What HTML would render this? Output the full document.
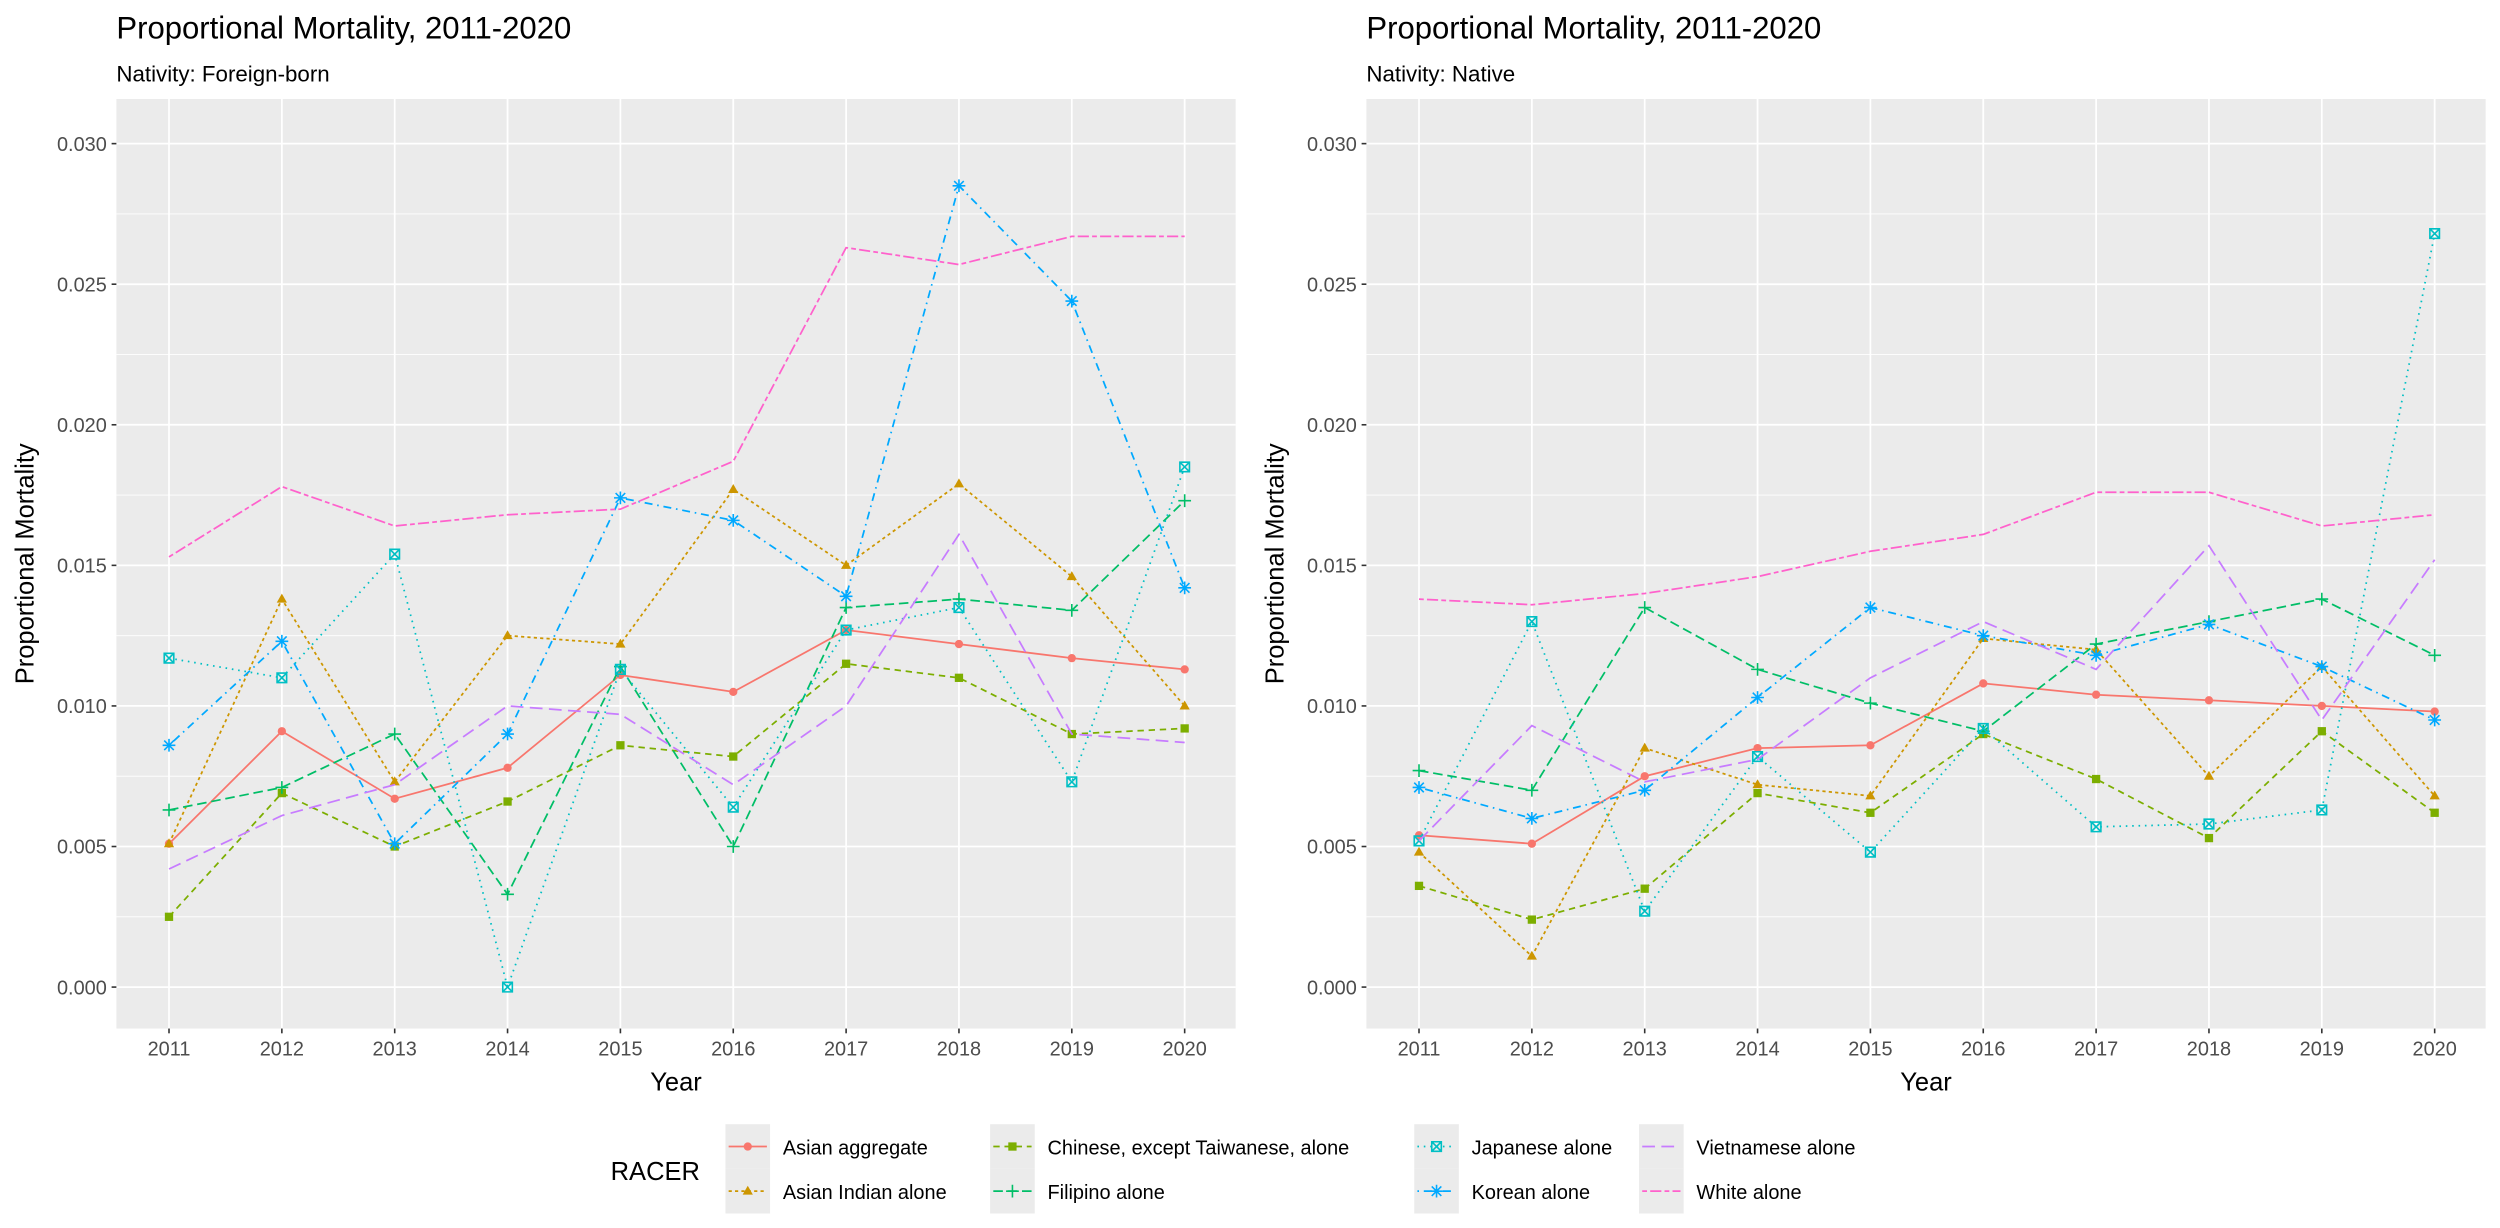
<!DOCTYPE html>
<html><head><meta charset="utf-8"><style>
html,body{margin:0;padding:0;background:#fff}
svg{display:block;font-family:"Liberation Sans",Arial,sans-serif}
</style></head><body>
<svg id="chart" width="2500" height="1228" viewBox="0 0 1568 770" xmlns="http://www.w3.org/2000/svg">
<rect width="1568" height="770" fill="#fff"/>
</svg>
<script>
const years = [2011,2012,2013,2014,2015,2016,2017,2018,2019,2020];
const yTicks = [0,0.005,0.01,0.015,0.02,0.025,0.03];
const yTickLabels = ["0.000","0.005","0.010","0.015","0.020","0.025","0.030"];
const seriesNames = ["Asian aggregate","Asian Indian alone","Chinese, except Taiwanese, alone","Filipino alone","Japanese alone","Korean alone","Vietnamese alone","White alone"];
const foreignAggregate = [0.0051,0.0091,0.0067,0.0078,0.0111,0.0105,0.0127,0.0122,0.0117,0.0113];
const foreignIndian = [0.0051,0.0138,0.0073,0.0125,0.0122,0.0177,0.0150,0.0179,0.0146,0.0100];
const foreignChinese = [0.0025,0.0069,0.0050,0.0066,0.0086,0.0082,0.0115,0.0110,0.0090,0.0092];
const foreignFilipino = [0.0063,0.0071,0.0090,0.0033,0.0114,0.0050,0.0135,0.0138,0.0134,0.0173];
const foreignJapanese = [0.0117,0.0110,0.0154,0.0000,0.0113,0.0064,0.0127,0.0135,0.0073,0.0185];
const foreignKorean = [0.0086,0.0123,0.0051,0.0090,0.0174,0.0166,0.0139,0.0285,0.0244,0.0142];
const foreignVietnamese = [0.0042,0.0061,0.0072,0.0100,0.0097,0.0072,0.0100,0.0161,0.0090,0.0087];
const foreignWhite = [0.0153,0.0178,0.0164,0.0168,0.0170,0.0187,0.0263,0.0257,0.0267,0.0267];
const nativeAggregate = [0.0054,0.0051,0.0075,0.0085,0.0086,0.0108,0.0104,0.0102,0.0100,0.0098];
const nativeIndian = [0.0048,0.0011,0.0085,0.0072,0.0068,0.0124,0.0120,0.0075,0.0114,0.0068];
const nativeChinese = [0.0036,0.0024,0.0035,0.0069,0.0062,0.0090,0.0074,0.0053,0.0091,0.0062];
const nativeFilipino = [0.0077,0.0070,0.0135,0.0113,0.0101,0.0091,0.0122,0.0130,0.0138,0.0118];
const nativeJapanese = [0.0052,0.0130,0.0027,0.0082,0.0048,0.0092,0.0057,0.0058,0.0063,0.0268];
const nativeKorean = [0.0071,0.0060,0.0070,0.0103,0.0135,0.0125,0.0118,0.0129,0.0114,0.0095];
const nativeVietnamese = [0.0052,0.0093,0.0073,0.0081,0.0110,0.0130,0.0113,0.0157,0.0095,0.0152];
const nativeWhite = [0.0138,0.0136,0.0140,0.0146,0.0155,0.0161,0.0176,0.0176,0.0164,0.0168];

const colors = ["#F8766D","#CD9600","#7CAE00","#00BE67","#00BFC4","#00A9FF","#C77CFF","#FF61CC"];
const dashes = ["", "2,2", "4,3", "6,3", "1,3", "1,3,5,3", "8,4", "3,2,7,2"];
const shapes = ["circle","triangle","square","plus","squarex","asterisk",null,null];
const NS="http://www.w3.org/2000/svg";
const svg=document.getElementById('chart');
function mk(tag,attrs,parent){const e=document.createElementNS(NS,tag);for(const k in attrs)e.setAttribute(k,attrs[k]);(parent||svg).appendChild(e);return e;}
function txt(s,attrs,parent){const e=mk('text',attrs,parent);e.textContent=s;return e;}

function drawShape(g,shape,cx,cy,col){
  let e;
  if(shape==='circle'){e=mk('circle',{cx,cy,r:2.6,fill:col},g);}
  else if(shape==='triangle'){e=mk('polygon',{points:`${cx},${cy-3.4} ${cx-3.2},${cy+2.2} ${cx+3.2},${cy+2.2}`,fill:col},g);}
  else if(shape==='square'){e=mk('rect',{x:cx-2.6,y:cy-2.6,width:5.2,height:5.2,fill:col},g);}
  else if(shape==='plus'){e=mk('path',{d:`M${cx-4},${cy}H${cx+4}M${cx},${cy-4}V${cy+4}`,stroke:col,'stroke-width':1,fill:'none'},g);}
  else if(shape==='squarex'){e=mk('path',{d:`M${cx-3},${cy-3}h6v6h-6zM${cx-3},${cy-3}l6,6M${cx+3},${cy-3}l-6,6`,stroke:col,'stroke-width':1,fill:'none'},g);}
  else if(shape==='asterisk'){e=mk('path',{d:`M${cx-4},${cy}H${cx+4}M${cx},${cy-4}V${cy+4}M${cx-3},${cy-3}l6,6M${cx+3},${cy-3}l-6,6`,stroke:col,'stroke-width':1,fill:'none'},g);}
  if(e){}
}

function panel(px,title,subtitle,data,key){
  const L=px, R=px+702, T=62, B=645;
  const x0=L+33, xStep=70.78;
  const xs=i=>x0+i*xStep;
  const ys=v=>619-v/0.005*88.17;
  const g=mk('g',{});
  
  
  const t=txt(title,{x:L,y:24,'font-size':19.5,fill:'#000'},g);
  
  const st=txt(subtitle,{x:L,y:51,'font-size':14,fill:'#000'},g);
  
  const bg=mk('rect',{x:L,y:T,width:R-L,height:B-T,fill:'#EBEBEB'},g);
  
  for(let i=0;i<yTicks.length+1;i++){
    const v=-0.0025+i*0.005; const y=ys(v);
    if(y>T&&y<B){const l=mk('line',{x1:L,x2:R,y1:y,y2:y,stroke:'#fff','stroke-width':0.55},g);
      }
  }
  yTicks.forEach((v,i)=>{
    const y=ys(v);
    const l=mk('line',{x1:L,x2:R,y1:y,y2:y,stroke:'#fff','stroke-width':1.1},g);
    
    const tk=mk('line',{x1:L-3,x2:L,y1:y,y2:y,stroke:'#333','stroke-width':1},g);
    
    const lb=txt(yTickLabels[i],{x:L-6,y:y+4.5,'font-size':12.5,fill:'#4D4D4D','text-anchor':'end'},g);
    
  });
  years.forEach((yr,i)=>{
    const x=xs(i);
    const l=mk('line',{x1:x,x2:x,y1:T,y2:B,stroke:'#fff','stroke-width':1.1},g);
    
    const tk=mk('line',{x1:x,x2:x,y1:B,y2:B+3,stroke:'#333','stroke-width':1},g);
    
    const lb=txt(String(yr),{x:x,y:B+17,'font-size':12.5,fill:'#4D4D4D','text-anchor':'middle'},g);
    
  });
  const xt=txt('Year',{x:(L+R)/2,y:684,'font-size':16,fill:'#000','text-anchor':'middle'},g);
  
  const yt=txt('Proportional Mortality',{x:0,y:0,'font-size':16,fill:'#000','text-anchor':'middle',transform:`translate(${L-52},${(T+B)/2}) rotate(-90)`},g);
  
  data.forEach((vals,s)=>{
    const d=vals.map((v,i)=>(i?'L':'M')+xs(i).toFixed(2)+','+ys(v).toFixed(2)).join('');
    const p=mk('path',{d,fill:'none',stroke:colors[s],'stroke-width':1.1},g);
    if(dashes[s])p.setAttribute('stroke-dasharray',dashes[s]);
    
    if(shapes[s]) vals.forEach((v,i)=>drawShape(g,shapes[s],xs(i),ys(v),colors[s]));
  });
}
panel(73,'Proportional Mortality, 2011-2020','Nativity: Foreign-born',
  [foreignAggregate,foreignIndian,foreignChinese,foreignFilipino,foreignJapanese,foreignKorean,foreignVietnamese,foreignWhite],'foreign-born');
panel(857,'Proportional Mortality, 2011-2020','Nativity: Native',
  [nativeAggregate,nativeIndian,nativeChinese,nativeFilipino,nativeJapanese,nativeKorean,nativeVietnamese,nativeWhite],'native');

const lg=mk('g',{});


const lt=txt('RACER',{x:383,y:740,'font-size':16,fill:'#000'},lg);

const colX=[455,621,887,1028];
seriesNames.forEach((name,s)=>{
  const col=Math.floor(s/2), row=s%2;
  const kx=colX[col], ky=705+row*28;
  const eg=mk('g',{},lg);
  
  
  mk('rect',{x:kx,y:ky,width:28,height:28,fill:'#EBEBEB'},eg);
  const ln=mk('line',{x1:kx+2,x2:kx+26,y1:ky+14,y2:ky+14,stroke:colors[s],'stroke-width':1.1},eg);
  if(dashes[s])ln.setAttribute('stroke-dasharray',dashes[s]);
  if(shapes[s])drawShape(eg,shapes[s],kx+14,ky+14,colors[s]);
  txt(name,{x:kx+36,y:ky+19,'font-size':12.5,fill:'#000'},eg);
});
</script>
</body></html>
